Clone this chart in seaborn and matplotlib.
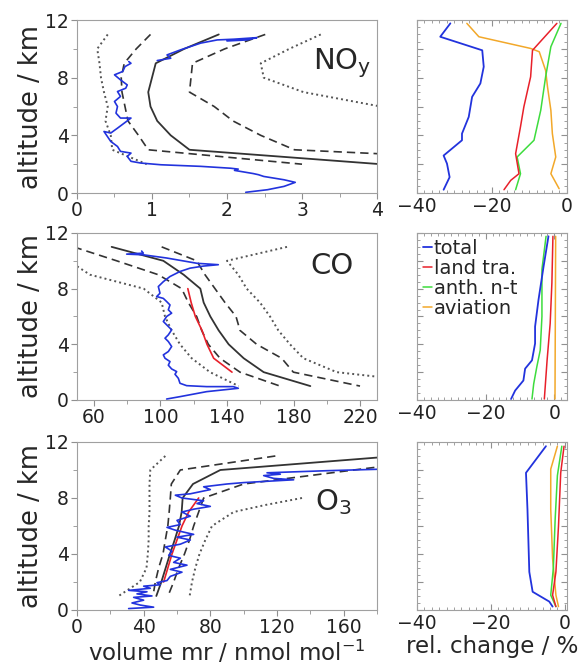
import matplotlib
matplotlib.use("Agg")
import matplotlib.pyplot as plt
import pandas as pd
import seaborn as sns
from matplotlib.ticker import MultipleLocator

# ---------------- data ----------------
# NOy (nmol/mol) vs altitude (km)
noy_alt = [11, 10, 9, 8, 7, 6, 5, 4, 3, 2]
noy_med = [1.89, 1.43, 1.05, 1.0, 0.95, 0.98, 1.07, 1.25, 1.5, 4.05]
noy_q25 = [0.98, 0.79, 0.63, 0.59, 0.60, 0.64, 0.68, 0.82, 0.95, 3.0]
noy_q75 = [2.51, 1.97, 1.54, 1.52, 1.50, 1.83, 2.08, 2.45, 2.9, 7.0]
noy_p10 = [0.41, 0.27, 0.30, 0.32, 0.36, 0.41, 0.38, 0.45, 0.47, 0.93]
noy_p90 = [3.25, 2.83, 2.45, 2.49, 3.02, 4.05, 5.0, 6.0, 8.0, 12.0]
noy_obs1_x = [2.25, 2.54, 2.76, 2.91, 2.76, 2.49, 2.42, 2.35, 2.1, 2.15, 2.05, 1.65, 1.12,
              0.85, 0.72, 0.67, 0.72, 0.58, 0.54, 0.45, 0.36, 0.45, 0.54, 0.63, 0.72, 0.58,
              0.52, 0.54, 0.50, 0.58, 0.54, 0.65, 0.67, 0.58, 0.50, 0.61, 0.64, 0.72, 0.69]
noy_obs1_alt = [0.05, 0.23, 0.46, 0.74, 0.92, 1.15, 1.27, 1.35, 1.57, 1.66, 1.72, 1.85, 1.96,
                2.08, 2.2, 2.54, 2.77, 2.89, 3.23, 3.58, 4.27, 4.16, 4.5, 4.85, 5.2, 5.2,
                5.54, 6.0, 6.35, 6.7, 7.04, 7.27, 7.5, 7.85, 8.2, 8.43, 8.77, 9.0, 9.12]
noy_obs2_x = [1.07, 1.25, 1.2, 1.38, 1.65, 1.87, 2.09, 2.4, 2.27, 2.0]
noy_obs2_alt = [9.19, 9.35, 9.58, 9.93, 10.4, 10.62, 10.67, 10.78, 10.62, 10.55]

# CO
co_alt = [11, 10, 9, 8, 7, 6, 5, 4, 3, 2, 1]
co_med = [70.8, 101.8, 114, 124, 126, 130, 135, 141, 150, 162, 190]
co_q25 = [48, 73.8, 98.8, 112.8, 116.8, 121.8, 124.8, 128.8, 135.8, 147.8, 171.8]
co_q75 = [100.8, 121.8, 126.8, 132.8, 138.8, 145.4, 147.8, 157.8, 172.8, 179.8, 219.8]
co_p10_alt = [10, 9, 8, 7, 6, 5, 4, 3, 2, 1]
co_p10 = [45, 57.8, 90, 100.8, 102.8, 106.8, 111.8, 118.8, 129.8, 147]
co_p90 = [176, 140, 146.8, 151.8, 159.8, 165.8, 170.8, 177.8, 185.8, 205.8, 280]
co_red_alt = [8, 7, 6, 5, 4, 3, 2]
co_red = [116.5, 118.5, 121, 125, 128, 132, 143]
co_obs_x = [103.8, 111.8, 127.8, 146.8, 143.8, 127.8, 115.8, 111.8, 110.8, 108.8, 109.8, 106.8,
            104.8, 105.8, 102.8, 101.8, 104.8, 106.8, 104.8, 102.8, 104.8, 106.8, 104.8, 101.8,
            103.8, 106.8, 104.8, 105.8, 103.8, 101.8, 97.8, 99.8, 98.8, 101.8, 105.8, 111.8,
            117.8, 125.8, 134.8, 122, 115.8, 103.8, 89.8, 79.8, 89.8, 88.8]
co_obs_alt = [0.07, 0.24, 0.6, 0.84, 0.96, 0.96, 1.03, 1.2, 1.56, 1.85, 2.04, 2.23,
              2.5, 2.76, 3.0, 3.24, 3.48, 3.84, 4.2, 4.44, 4.68, 5.04, 5.28, 5.64,
              6.0, 6.24, 6.48, 6.83, 7.07, 7.3, 7.43, 7.67, 8.15, 8.5, 8.87, 9.23,
              9.47, 9.62, 9.72, 9.82, 9.95, 10.2, 10.43, 10.48, 10.55, 10.7]

# O3
o3_alt = [11, 10, 9, 8, 7, 6, 5, 4, 3, 2, 1]
o3_med = [192, 86, 69.6, 63.4, 62.8, 61.2, 58.6, 55.8, 53.2, 50.6, 47.6]
o3_q25 = [119, 62, 56.6, 56, 55.3, 54.5, 53, 51.6, 49, 47, 45.6]
o3_q75 = [234, 166, 100, 76, 73, 70, 67.5, 64.5, 61, 58, 54.6]
o3_p10 = [53, 44, 43.5, 43.5, 43.5, 43, 43, 42.5, 41.7, 37.7, 25]
o3_p90_alt = [8, 7.5, 7, 6, 5, 4, 3, 2, 1]
o3_p90 = [135, 113, 94, 81, 77, 73.5, 71, 69, 67.6]
o3_red_alt = [8, 7, 6, 5, 4, 3, 2]
o3_red = [73, 67, 63, 60, 57, 54.5, 52]
o3_obs_x = [31, 46, 38, 33, 40, 34, 45, 36, 42, 31, 44, 40, 50, 48, 54, 56, 63, 56, 66, 58,
            62, 55, 57, 53, 62, 68, 60, 70, 59, 54, 62, 60, 68, 63, 70, 80, 72, 76, 63, 59,
            68, 80, 76, 90, 100, 130, 118, 112, 122, 114, 150, 180]
o3_obs_alt = [0.1, 0.2, 0.35, 0.5, 0.7, 0.9, 1.0, 1.15, 1.3, 1.4, 1.55, 1.7, 1.8, 1.95, 2.1,
              2.4, 2.7, 2.9, 3.2, 3.4, 3.7, 3.9, 4.2, 4.5, 4.7, 5.0, 5.2, 5.4, 5.7, 5.9, 6.1,
              6.4, 6.7, 7.0, 7.2, 7.4, 7.6, 7.8, 8.0, 8.2, 8.3, 8.6, 8.8, 9.0, 9.1, 9.3, 9.4,
              9.6, 9.7, 9.8, 9.95, 10.05]

# relative changes (%)
noy_tot_alt = [11.77, 10.84, 9.9, 8.76, 7.6, 6.67, 5.28, 4.12, 3.66, 2.6, 2.04, 1.1, 0.23]
noy_tot = [-31.1, -33.8, -22.6, -22.2, -23.1, -25.3, -26.2, -28.0, -28.0, -32.9, -32.0, -31.3, -32.9]
noy_avi_alt = [11.77, 10.84, 10.03, 9.8, 8.5, 7.37, 5.74, 4.12, 2.5, 1.34, 0.3]
noy_avi = [-26.7, -23.5, -9.7, -7.4, -5.7, -5.2, -4.3, -3.9, -3.0, -4.3, -2.1]
noy_land_alt = [11.77, 9.9, 8.06, 5.98, 4.6, 2.73, 1.34, 0.88, 0.23]
noy_land = [-2.7, -9.2, -9.7, -11.5, -12.4, -13.7, -12.8, -15.0, -16.8]
noy_anth_alt = [11.77, 10.15, 8.06, 5.74, 3.66, 2.5, 1.34, 0.23]
noy_anth = [-1.6, -4.3, -5.7, -7.0, -8.8, -13.3, -12.4, -13.7]

co_tot_alt = [11.76, 9.63, 7.2, 5.27, 4.06, 2.85, 2.25, 1.4, 0.68, 0.07]
co_tot = [-1.7, -3.1, -4.6, -5.6, -5.6, -6.5, -8.5, -9.0, -11.4, -12.6]
co_anth_alt = [11.76, 9.39, 6.0, 3.58, 2.37, 1.16, 0.07]
co_anth = [-2.4, -3.6, -3.6, -4.1, -5.1, -6.0, -6.5]
co_land_alt = [11.76, 8.42, 5.5, 2.85, 0.07]
co_land = [-0.4, -0.7, -1.2, -2.1, -2.9]
co_avi_alt = [11.76, 6.0, 0.07]
co_avi = [0.4, 0.3, 0.2]

o3_tot_alt = [11.7, 9.8, 7.2, 2.72, 1.3, 0.6, 0.24]
o3_tot = [-5.1, -10.5, -10.1, -9.6, -8.7, -4.2, -3.3]
o3_avi_alt = [11.7, 10.06, 7.2, 3.67, 1.06, 0.24]
o3_avi = [-2.0, -3.8, -3.8, -3.3, -2.4, -1.7]
o3_anth_alt = [11.7, 9.6, 6.5, 2.96, 1.06, 0.24]
o3_anth = [-0.8, -2.0, -2.6, -3.1, -3.8, -2.4]
o3_land_alt = [11.7, 9.8, 6.0, 2.72, 1.06, 0.24]
o3_land = [-0.2, -1.1, -1.7, -2.4, -3.3, -2.4]

legend_labels = ["total", "land tra.", "anth. n-t", "aviation"]

# ---------------- style ----------------
sns.set_style("ticks")
plt.rcParams['font.family'] = ['DejaVu Sans']
plt.rcParams['axes.edgecolor'] = '#a0a0a0'
plt.rcParams['xtick.color'] = '#909090'
plt.rcParams['ytick.color'] = '#909090'
plt.rcParams['xtick.labelcolor'] = '#222222'
plt.rcParams['ytick.labelcolor'] = '#222222'

BLUE = '#2233dd'
RED = '#e8202a'
GREEN = '#3ddc3d'
ORANGE = '#f2a82a'
BLACK = '#333333'
DOT = (0, (1, 1.6))
DASH = (0, (5, 3))


def prof(ax, x, y, **kw):
    df = pd.DataFrame({'x': x, 'y': y})
    sns.lineplot(data=df, x='x', y='y', sort=False, estimator=None, ax=ax,
                 legend=False, **kw)


fig = plt.figure(figsize=(5.81, 6.70), dpi=100)
rows = [(0.7119, 0.2582), (0.4030, 0.2493), (0.0896, 0.2507)]
left_axes = [fig.add_axes([0.1325, b, 0.5164, h]) for b, h in rows]
right_axes = [fig.add_axes([0.7177, b, 0.2582, h]) for b, h in rows]

# ---- left panels ----
ax = left_axes[0]
prof(ax, noy_med, noy_alt, color=BLACK, lw=1.3)
prof(ax, noy_q25, noy_alt, color=BLACK, lw=1.2, linestyle=DASH)
prof(ax, noy_q75, noy_alt, color=BLACK, lw=1.2, linestyle=DASH)
prof(ax, noy_p10, noy_alt, color='#555555', lw=1.4, linestyle=DOT)
prof(ax, noy_p90, noy_alt, color='#555555', lw=1.4, linestyle=DOT)
prof(ax, noy_obs1_x, noy_obs1_alt, color=BLUE, lw=1.2)
prof(ax, noy_obs2_x, noy_obs2_alt, color=BLUE, lw=1.2)
ax.set_xlim(0, 4)
ax.xaxis.set_major_locator(MultipleLocator(1))
ax.xaxis.set_minor_locator(MultipleLocator(0.5))
ax.text(0.885, 0.75, 'NO$_\\mathregular{y}$', transform=ax.transAxes, fontsize=21,
        ha='center', va='center')

ax = left_axes[1]
prof(ax, co_med, co_alt, color=BLACK, lw=1.3)
prof(ax, co_q25, co_alt, color=BLACK, lw=1.2, linestyle=DASH)
prof(ax, co_q75, co_alt, color=BLACK, lw=1.2, linestyle=DASH)
prof(ax, co_p10, co_p10_alt, color='#555555', lw=1.4, linestyle=DOT)
prof(ax, co_p90, co_alt, color='#555555', lw=1.4, linestyle=DOT)
prof(ax, co_red, co_red_alt, color=RED, lw=1.2)
prof(ax, co_obs_x, co_obs_alt, color=BLUE, lw=1.2)
ax.set_xlim(50, 230)
ax.set_xticks([60, 100, 140, 180, 220])
ax.xaxis.set_minor_locator(MultipleLocator(20))
ax.text(0.85, 0.80, 'CO', transform=ax.transAxes, fontsize=21,
        ha='center', va='center')

ax = left_axes[2]
prof(ax, o3_med, o3_alt, color=BLACK, lw=1.3)
prof(ax, o3_q25, o3_alt, color=BLACK, lw=1.2, linestyle=DASH)
prof(ax, o3_q75, o3_alt, color=BLACK, lw=1.2, linestyle=DASH)
prof(ax, o3_p10, o3_alt, color='#555555', lw=1.4, linestyle=DOT)
prof(ax, o3_p90, o3_p90_alt, color='#555555', lw=1.4, linestyle=DOT)
prof(ax, o3_red, o3_red_alt, color=RED, lw=1.2)
prof(ax, o3_obs_x, o3_obs_alt, color=BLUE, lw=1.2)
ax.set_xlim(0, 180)
ax.set_xticks([0, 40, 80, 120, 160])
ax.xaxis.set_minor_locator(MultipleLocator(20))
ax.text(0.855, 0.64, 'O$_\\mathregular{3}$', transform=ax.transAxes, fontsize=21,
        ha='center', va='center')

for ax in left_axes:
    ax.set_ylim(0, 12)
    ax.set_yticks([0, 4, 8, 12])
    ax.yaxis.set_minor_locator(MultipleLocator(2))
    ax.set_ylabel('altitude / km', fontsize=18.5, labelpad=1)
    ax.tick_params(which='both', direction='out', labelsize=13.5, pad=2)
    ax.tick_params(which='major', length=4)
    ax.tick_params(which='minor', length=3)
    ax.set_xlabel('')
    for s in ax.spines.values():
        s.set_visible(True)
        s.set_color('#a0a0a0')
left_axes[2].set_xlabel('volume mr / nmol mol$^{\\mathregular{-1}}$', fontsize=16.5,
                        labelpad=1)

# ---- right panels ----
rel = [
    (noy_tot, noy_tot_alt, noy_land, noy_land_alt, noy_anth, noy_anth_alt, noy_avi, noy_avi_alt),
    (co_tot, co_tot_alt, co_land, co_land_alt, co_anth, co_anth_alt, co_avi, co_avi_alt),
    (o3_tot, o3_tot_alt, o3_land, o3_land_alt, o3_anth, o3_anth_alt, o3_avi, o3_avi_alt),
]
xlims = [(-40, 0), (-40, 3.7), (-40, 0.6)]
for ax, r, xl in zip(right_axes, rel, xlims):
    prof(ax, r[6], r[7], color=ORANGE, lw=1.1, label=legend_labels[3])
    prof(ax, r[4], r[5], color=GREEN, lw=1.1, label=legend_labels[2])
    prof(ax, r[2], r[3], color=RED, lw=1.1, label=legend_labels[1])
    prof(ax, r[0], r[1], color=BLUE, lw=1.3, label=legend_labels[0])
    ax.set_xlim(*xl)
    ax.set_ylim(0, 12)
    ax.set_xticks([-40, -20, 0])
    ax.xaxis.set_minor_locator(MultipleLocator(2))
    ax.yaxis.set_major_locator(MultipleLocator(2))
    ax.yaxis.set_minor_locator(MultipleLocator(0.5))
    ax.set_yticklabels([])
    ax.set_ylabel('')
    ax.set_xlabel('')
    ax.tick_params(which='both', direction='in', top=True, right=True,
                   labelsize=13.5, pad=3)
    ax.tick_params(which='major', length=4)
    ax.tick_params(which='minor', length=2)
    for s in ax.spines.values():
        s.set_visible(True)
        s.set_color('#a0a0a0')

right_axes[2].set_xlabel('rel. change / %', fontsize=16.5, labelpad=1)

h, l = right_axes[1].get_legend_handles_labels()
order = [3, 2, 1, 0]
right_axes[1].legend([h[i] for i in order], [l[i] for i in order],
                     loc='upper left', frameon=False, fontsize=14,
                     handlelength=0.45, handletextpad=0.1, labelspacing=0.05,
                     borderaxespad=0.1, borderpad=0.2)

fig.savefig('out.png', dpi=100)
